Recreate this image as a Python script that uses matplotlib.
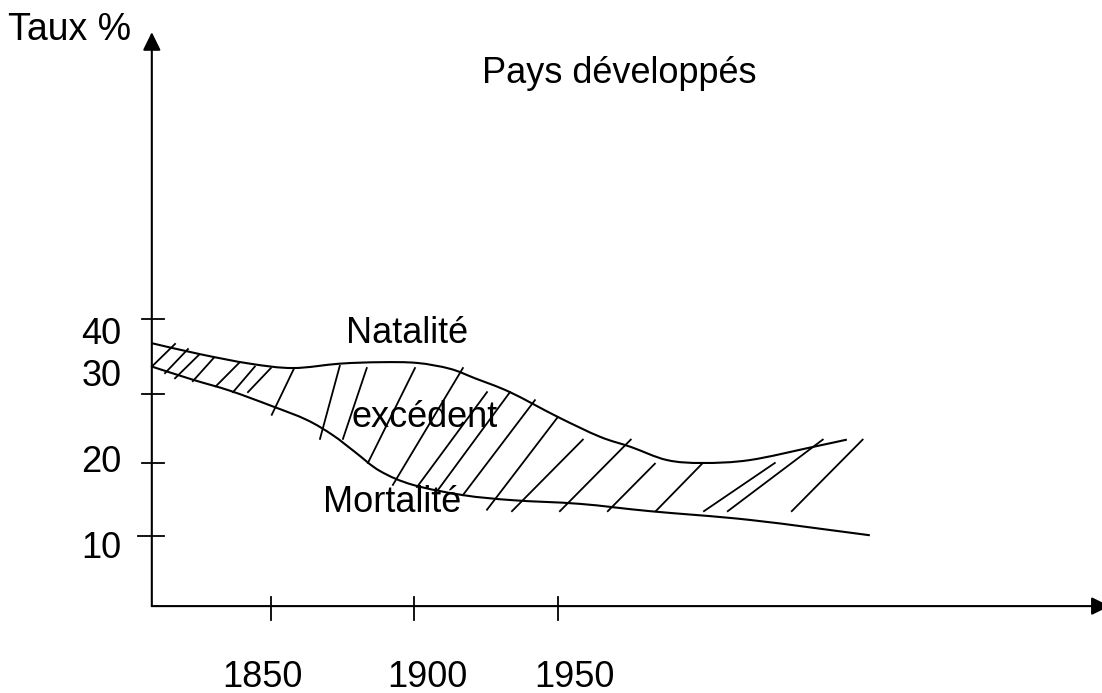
import matplotlib.pyplot as plt
from matplotlib.path import Path
from matplotlib.patches import PathPatch
import numpy as np

plt.rcParams['font.family'] = ['Liberation Sans', 'DejaVu Sans']

# --- data (years / rate %) ---
nat_year = [1808.5, 1825.3, 1842.7, 1857.7, 1874.0, 1888.0, 1900.9, 1912.4, 1921.1,
            1933.3, 1950.0, 1964.6, 1975.4, 1988.0, 2000.5, 2016.9, 2038.9, 2050.7]
nat_rate = [36.4, 34.9, 33.6, 33.0, 33.6, 33.8, 33.7, 32.9, 31.6,
            29.7, 26.3, 23.6, 22.2, 20.4, 20.0, 20.4, 22.2, 23.2]

mort_year = [1808.5, 1822.8, 1835.7, 1850.3, 1862.5, 1871.6, 1879.3, 1888.0, 1899.5,
             1916.9, 1934.3, 1957.7, 1982.1, 2016.9, 2058.7]
mort_rate = [33.2, 31.4, 29.9, 27.8, 25.9, 23.8, 21.5, 18.9, 17.0,
             15.6, 14.9, 14.4, 13.4, 12.2, 10.1]

# hand drawn hatch strokes of the "excédent" area
hatch_x0 = [1808.5, 1813.1, 1816.6, 1822.8, 1830.8, 1836.8, 1842.0, 1850.3, 1867.1, 1875.1,
            1883.8, 1892.5, 1900.9, 1908.2, 1916.9, 1925.3, 1934.0, 1950.7, 1967.4, 1984.1,
            2000.9, 2009.2, 2031.5]
hatch_y0 = [33.2, 32.3, 31.6, 31.2, 30.5, 29.7, 29.7, 26.6, 23.3, 23.3,
            20.0, 17.0, 16.7, 16.3, 15.6, 13.6, 13.4, 13.4, 13.4, 13.4,
            13.4, 13.4, 13.4]
hatch_x1 = [1816.6, 1821.1, 1824.9, 1830.1, 1838.9, 1844.4, 1850.0, 1858.0, 1874.0, 1883.4,
            1900.2, 1916.9, 1925.3, 1933.3, 1942.0, 1950.0, 1958.7, 1975.4, 1983.8, 2000.5,
            2025.6, 2042.3, 2056.2]
hatch_y1 = [36.3, 35.6, 34.8, 34.4, 33.7, 33.2, 33.0, 32.9, 33.3, 33.0,
            33.0, 33.0, 29.7, 29.7, 28.6, 26.3, 23.2, 23.2, 19.9, 20.0,
            20.0, 23.2, 23.2]

ytick_pos = [39.7, 29.5, 20, 10]
ylabels = ['40', '30', '20', '10']
ylabel_base = [36.3, 30.5, 18.8, 7.0]
xtick_pos = [1850, 1900, 1950]
xlabels = ['1850', '1900', '1950']
xlabel_pos = [1846.9, 1904.4, 1955.9]


def smooth_path(xs, ys):
    # catmull-rom through the read points, drawn as bezier segments
    p = np.column_stack([xs, ys])
    p = np.vstack([p[0], p, p[-1]])
    verts = [p[1]]
    codes = [Path.MOVETO]
    for i in range(1, len(p) - 2):
        c1 = p[i] + (p[i + 1] - p[i - 1]) / 6
        c2 = p[i + 1] - (p[i + 2] - p[i]) / 6
        verts += [c1, c2, p[i + 1]]
        codes += [Path.CURVE4] * 3
    return Path(verts, codes)


fig = plt.figure(figsize=(11.02, 6.93), dpi=100)
ax = fig.add_axes([0, 0, 1, 1])
ax.set_xlim(1755.6, 2139.6)
ax.set_ylim(-11.5, 83.4)
ax.axis('off')

x0, y0 = 1808.5, 0.4
arrow = dict(arrowstyle='-|>,head_length=0.55,head_width=0.27', mutation_scale=20,
             lw=1.5, color='k', shrinkA=0, shrinkB=0)
ax.annotate('', xy=(x0, 79.0), xytext=(x0, y0), arrowprops=arrow, annotation_clip=False)
ax.annotate('', xy=(2142.3, y0), xytext=(x0, y0), arrowprops=arrow, annotation_clip=False)

# ticks crossing the axes
for i, yt in enumerate(ytick_pos):
    left = 1803.7 if yt == 10 else 1805.1
    ax.plot([left, 1812.7], [yt, yt], color='k', lw=1.3)
    ax.text(1797.9, ylabel_base[i], ylabels[i], ha='right', va='baseline', fontsize=26)
for i, xt in enumerate(xtick_pos):
    ax.plot([xt, xt], [-1.5, 1.6], color='k', lw=1.3)
    ax.text(xlabel_pos[i], -10.7, xlabels[i], ha='center', va='baseline', fontsize=26)

# curves
for xs, ys in [(nat_year, nat_rate), (mort_year, mort_rate)]:
    ax.add_patch(PathPatch(smooth_path(xs, ys), fc='none', ec='k', lw=1.5))
for a, b, c, d in zip(hatch_x0, hatch_y0, hatch_x1, hatch_y1):
    ax.plot([a, c], [b, d], color='k', lw=1.3)

ax.text(1758.4, 77.9, 'Taux %', ha='left', va='baseline', fontsize=27)
ax.text(1923.5, 72.1, 'Pays développés', ha='left', va='baseline', fontsize=26)
ax.text(1876.1, 36.4, 'Natalité', ha='left', va='baseline', fontsize=26)
ax.text(1878.2, 24.9, 'excédent', ha='left', va='baseline', fontsize=26)
ax.text(1868.1, 13.3, 'Mortalité', ha='left', va='baseline', fontsize=26)

fig.savefig('out.png', dpi=100)
